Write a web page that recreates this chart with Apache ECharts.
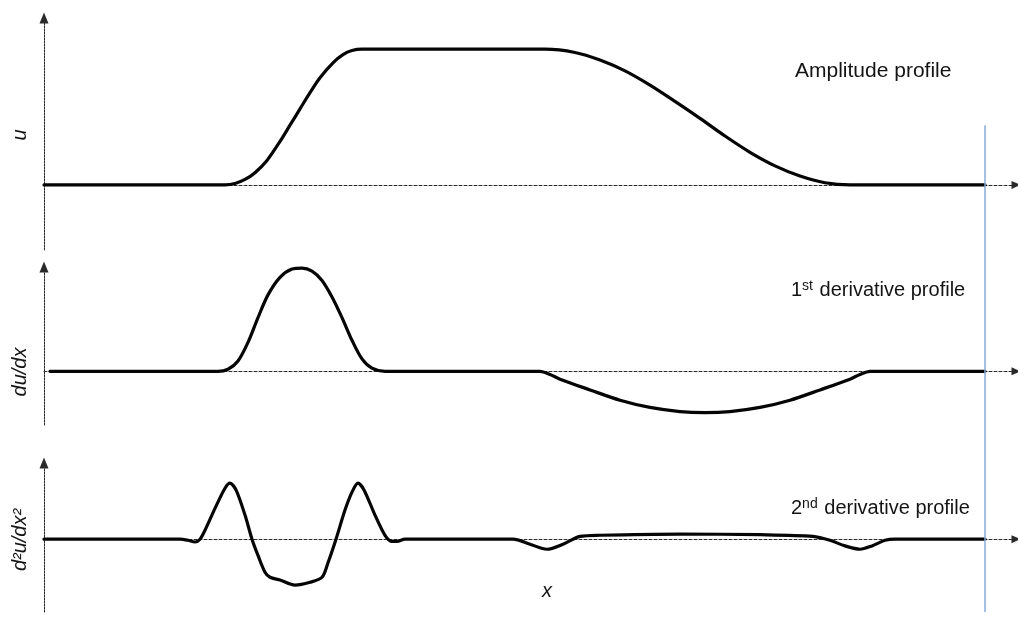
<!DOCTYPE html>
<html>
<head>
<meta charset="utf-8">
<title>Amplitude and derivative profiles</title>
<script src="https://cdn.jsdelivr.net/npm/echarts@6/dist/echarts.min.js"></script>
<style>
  html, body { margin: 0; padding: 0; background: #ffffff; }
  #chart { width: 1018px; height: 617px; }
</style>
</head>
<body>
<div id="chart"></div>
<script>
// Profile u(x) and its first two derivatives, sampled along x
const amplitude = [
  [0, 0], [18.1, 0], [19.1, 0.01], [20.1, 0.04], [21.1, 0.09], [22.3, 0.18],
  [23.6, 0.32], [24.6, 0.44], [25.6, 0.56], [26.6, 0.68], [27.6, 0.79],
  [28.9, 0.90], [29.9, 0.96], [30.8, 0.99], [31.8, 1.0], [40, 1.0], [50.1, 1.0],
  [53.1, 0.976], [55.6, 0.92], [58.1, 0.84], [60.6, 0.735], [63.1, 0.615],
  [65.6, 0.49], [68.1, 0.36], [70.6, 0.24], [73.1, 0.14], [75.6, 0.065],
  [78.1, 0.016], [80.6, 0], [94.1, 0]
];

const firstDerivative = [
  [0.6, 0], [17.4, 0], [18.4, 0.02], [19.4, 0.1], [20.4, 0.28], [21.4, 0.52],
  [22.4, 0.74], [23.6, 0.91], [24.8, 0.99], [25.8, 1.0], [26.8, 0.97],
  [27.8, 0.88], [28.8, 0.72], [29.8, 0.52], [30.8, 0.30], [31.8, 0.12],
  [32.8, 0.03], [34.1, 0], [49.6, 0], [50.6, -0.03], [51.6, -0.076], [54.6, -0.18],
  [57.6, -0.28], [60.6, -0.35], [63.6, -0.39], [66.1, -0.40], [68.6, -0.39],
  [71.6, -0.35], [74.6, -0.28], [77.6, -0.18], [80.6, -0.076], [81.6, -0.03],
  [82.6, 0], [94.1, 0]
];

const secondDerivative = [
  [0, 0], [13.6, 0], [14.4, -0.02], [15.1, -0.05], [15.6, 0], [16.1, 0.16],
  [17.1, 0.55], [18.1, 0.91], [18.6, 1.0], [19.2, 0.88], [20.1, 0.43],
  [20.8, 0], [21.4, -0.29], [22.1, -0.59], [22.6, -0.68], [23.6, -0.73],
  [25.1, -0.82], [26.6, -0.77], [27.8, -0.68], [28.4, -0.42], [29.2, 0],
  [30.1, 0.52], [30.8, 0.84], [31.4, 1.0], [32.0, 0.88], [33.1, 0.43],
  [34.1, 0.07], [34.8, -0.04], [35.3, -0.04], [36.1, 0], [46.9, 0],
  [48.6, -0.09], [50.3, -0.18], [51.9, -0.09], [53.6, 0.05], [55.6, 0.07],
  [63.6, 0.09], [71.6, 0.08], [76.9, 0.05], [78.6, -0.02], [80.1, -0.12],
  [81.6, -0.18], [82.8, -0.12], [84.1, -0.02], [85.1, 0], [94.1, 0]
];

const profiles = [amplitude, firstDerivative, secondDerivative];
const axisNames = ['u', 'du/dx', 'd\u00b2u/dx\u00b2'];
const panelTitles = [
  'Amplitude profile',
  '{n|1}{s|st}{n| derivative profile}',
  '{n|2}{s|nd}{n| derivative profile}'
];
const xLabel = 'x';
const xRange = [0, 97.2];
const yRanges = [[-0.48, 1.23], [-0.52, 1.01], [-1.3, 1.36]];
const boundaryX = 94.1;     // right end of the sampled domain
const boundaryTopU = 0.44;  // upper end of the boundary marker (u units)

const FONT = '"Liberation Sans", Arial, Helvetica, sans-serif';
const INK = '#141414';
const AXIS_INK = '#2a2a2a';

const gridBoxes = [
  { left: 44, right: 2, top: 18, height: 232 },
  { left: 44, right: 2, top: 267, height: 158 },
  { left: 44, right: 2, top: 463, height: 149 }
];

const chart = echarts.init(document.getElementById('chart'), null, { renderer: 'canvas' });

const xAxes = gridBoxes.map((g, i) => ({
  type: 'value', gridIndex: i, min: xRange[0], max: xRange[1],
  axisLine: {
    show: true, onZero: true, symbol: ['none', 'triangle'], symbolSize: [8, 9],
    lineStyle: { color: AXIS_INK, width: 1, type: [3, 2] }
  },
  axisTick: { show: false }, axisLabel: { show: false }, splitLine: { show: false }
}));

const yAxes = gridBoxes.map((g, i) => ({
  type: 'value', gridIndex: i, min: yRanges[i][0], max: yRanges[i][1],
  axisLine: {
    show: true, onZero: true, symbol: ['none', 'triangle'], symbolSize: [9, 11],
    lineStyle: { color: AXIS_INK, width: 1, type: [2, 1] }
  },
  axisTick: { show: false }, axisLabel: { show: false }, splitLine: { show: false }
}));

const series = profiles.map((data, i) => ({
  type: 'line', xAxisIndex: i, yAxisIndex: i, data: data,
  smooth: 0.3, showSymbol: false, silent: true, z: 5,
  lineStyle: { color: '#050505', width: 3.2, cap: 'round', join: 'round' }
}));

const titleTops = [61, 279, 497];
const titleSizes = [21, 20, 20];
const titles = panelTitles.map((t, i) => ({
  text: t, left: i === 0 ? 795 : 791, top: titleTops[i], padding: 0,
  textStyle: {
    fontFamily: FONT, fontSize: titleSizes[i], fontWeight: 'normal', color: INK,
    rich: {
      n: { fontFamily: FONT, fontSize: 20, color: INK, lineHeight: 22 },
      s: { fontFamily: FONT, fontSize: 14, color: INK, verticalAlign: 'top', lineHeight: 22, padding: [0, 1, 0, 0] }
    }
  }
}));

const labelCentres = [[20, 135], [20, 372], [20, 540]];
const axisNameText = axisNames.map((name, i) => ({
  type: 'text', x: labelCentres[i][0], y: labelCentres[i][1], rotation: Math.PI / 2,
  silent: true,
  style: {
    text: name, fill: INK, font: 'italic 20px ' + FONT,
    align: 'center', verticalAlign: 'middle'
  }
}));

const xNameText = {
  type: 'text', x: 547, y: 591, silent: true,
  style: { text: xLabel, fill: INK, font: 'italic 20px ' + FONT, align: 'center', verticalAlign: 'middle' }
};

chart.setOption({
  animation: false,
  backgroundColor: '#ffffff',
  title: titles,
  grid: gridBoxes,
  xAxis: xAxes,
  yAxis: yAxes,
  series: series,
  graphic: axisNameText.concat([xNameText])
});

// Vertical marker at the right end of the domain, spanning all three panels
const markerTop = chart.convertToPixel({ gridIndex: 0 }, [boundaryX, boundaryTopU]);
const markerBottom = chart.convertToPixel({ gridIndex: 2 }, [boundaryX, yRanges[2][0]]);
chart.setOption({
  graphic: axisNameText.concat([
    xNameText,
    {
      type: 'line', silent: true, z: 10,
      shape: { x1: markerTop[0], y1: markerTop[1], x2: markerBottom[0], y2: markerBottom[1] },
      style: { stroke: '#86abdc', lineWidth: 1.5 }
    }
  ])
});
</script>
</body>
</html>
